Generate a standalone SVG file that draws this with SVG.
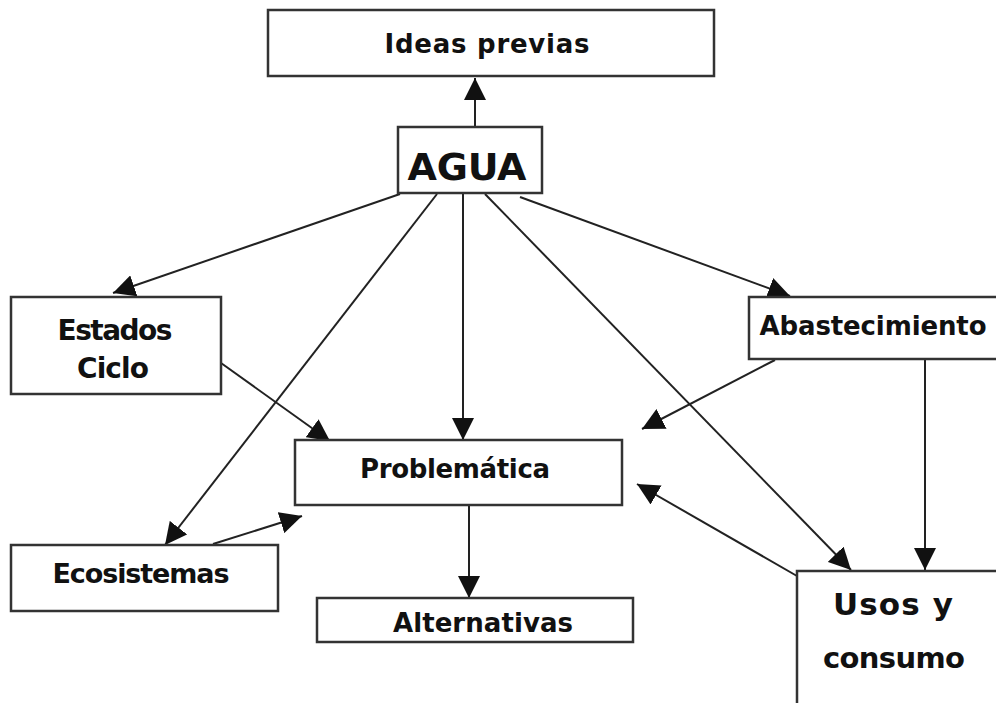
<svg xmlns="http://www.w3.org/2000/svg" width="996" height="703" viewBox="0 0 996 703">
  <defs>
    <marker id="arrow" viewBox="0 0 20 20" refX="20" refY="10" markerWidth="22" markerHeight="22" markerUnits="userSpaceOnUse" orient="auto">
      <path d="M0,0 L20,10 L0,20 Z" fill="#111"/>
    </marker>
  </defs>
  <style>
    .box { fill: #fff; stroke: #333; stroke-width: 2.5; }
    .lbl { font-family: "DejaVu Sans", "Liberation Sans", sans-serif; font-weight: bold; fill: #111; text-anchor: middle; }
    .edge { stroke: #222; stroke-width: 2; fill: none; marker-end: url(#arrow); }
  </style>
  <rect width="996" height="703" fill="#fff"/>

  <g id="connectors">
    <line class="edge" x1="475" y1="127" x2="475" y2="78"/>
    <line class="edge" x1="400" y1="194" x2="113" y2="293"/>
    <line class="edge" x1="520" y1="197" x2="790" y2="296"/>
    <line class="edge" x1="463" y1="194" x2="463" y2="440"/>
    <line class="edge" x1="437" y1="194" x2="165" y2="545"/>
    <line class="edge" x1="485" y1="194" x2="851" y2="570"/>
    <line class="edge" x1="221" y1="363" x2="330" y2="441"/>
    <line class="edge" x1="213" y1="544" x2="302" y2="516"/>
    <line class="edge" x1="775" y1="360" x2="642" y2="429"/>
    <line class="edge" x1="925" y1="360" x2="925" y2="570"/>
    <line class="edge" x1="797" y1="576" x2="637" y2="484"/>
    <line class="edge" x1="469" y1="505" x2="469" y2="598"/>
  </g>

  <g id="ideas-previas">
    <rect class="box" x="268" y="10" width="446" height="66"/>
    <text class="lbl" x="487" y="53" font-size="26" textLength="205">Ideas previas</text>
  </g>
  <g id="agua">
    <rect class="box" x="398" y="127" width="144" height="66"/>
    <text class="lbl" x="467" y="180" font-size="38" textLength="119">AGUA</text>
  </g>
  <g id="estados-ciclo">
    <rect class="box" x="11" y="297" width="210" height="97"/>
    <text class="lbl" x="115" y="340" font-size="28" textLength="115">Estados</text>
    <text class="lbl" x="113" y="378" font-size="28" textLength="72">Ciclo</text>
  </g>
  <g id="abastecimiento">
    <rect class="box" x="749" y="297" width="250" height="62"/>
    <text class="lbl" x="873" y="335" font-size="26" textLength="227">Abastecimiento</text>
  </g>
  <g id="problematica">
    <rect class="box" x="295" y="440" width="327" height="65"/>
    <text class="lbl" x="455" y="478" font-size="26" textLength="190">Problemática</text>
  </g>
  <g id="ecosistemas">
    <rect class="box" x="11" y="545" width="267" height="66"/>
    <text class="lbl" x="141" y="583" font-size="27" textLength="177">Ecosistemas</text>
  </g>
  <g id="alternativas">
    <rect class="box" x="317" y="598" width="316" height="44"/>
    <text class="lbl" x="483" y="632" font-size="26" textLength="180">Alternativas</text>
  </g>
  <g id="usos-consumo">
    <rect class="box" x="797" y="571" width="202" height="140"/>
    <text class="lbl" x="893" y="615" font-size="31" textLength="120">Usos y</text>
    <text class="lbl" x="894" y="668" font-size="29" textLength="142">consumo</text>
  </g>
</svg>
